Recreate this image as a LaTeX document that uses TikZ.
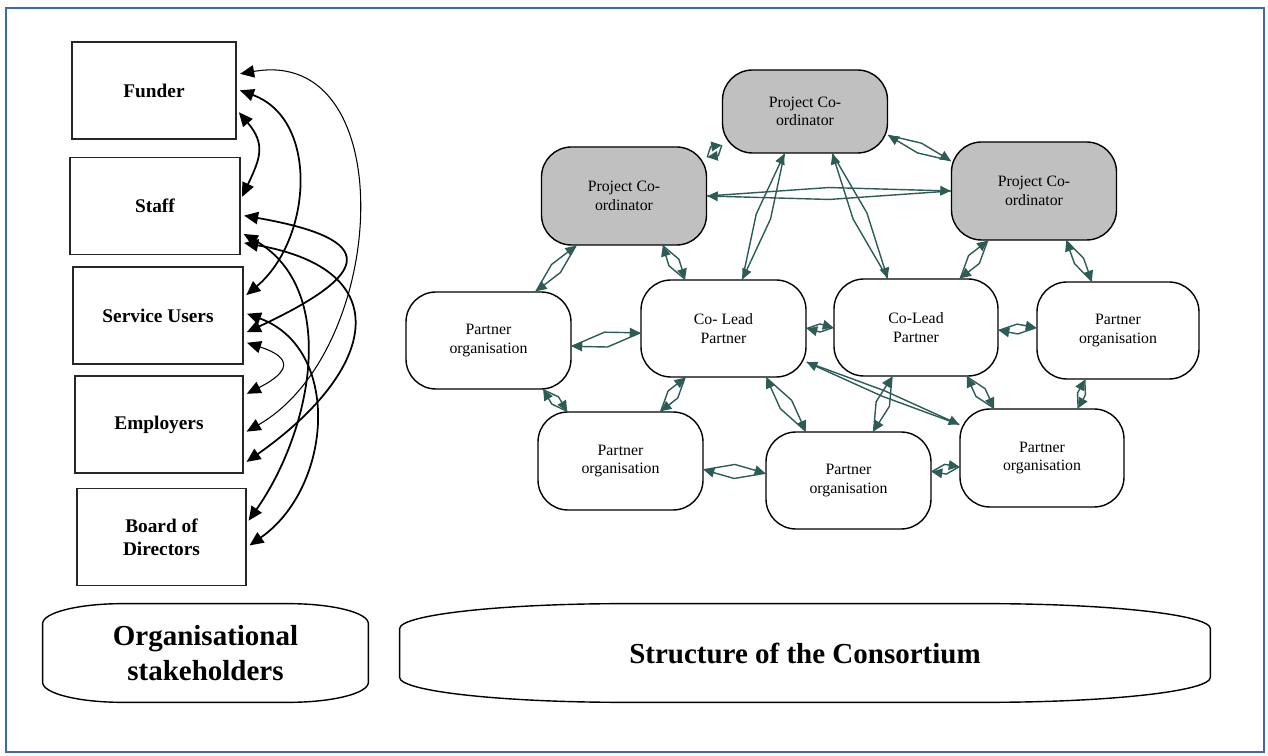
\documentclass[tikz,border=0pt]{standalone}
\usepackage{fontspec}
\setmainfont{Liberation Serif}
\usetikzlibrary{calc,arrows.meta}
\definecolor{linkteal}{RGB}{45,92,87}
\definecolor{frameblue}{RGB}{62,104,176}
\definecolor{coordgray}{RGB}{192,192,192}
\def\lens(#1)(#2)(#3){\draw[link] (#1) -- ($(#1)!0.5!(#2)!#3!90:(#2)$) -- (#2); \draw[link] (#2) -- ($(#1)!0.5!(#2)!#3!-90:(#2)$) -- (#1);}
\def\softbox(#1)(#2:#3){\draw[line width=0.8pt] ([xshift=#2]#1.north west) -- ([xshift=-#2]#1.north east) arc[start angle=90,end angle=0,x radius=#2,y radius=#3] -- ([yshift=#3]#1.south east) arc[start angle=0,end angle=-90,x radius=#2,y radius=#3] -- ([xshift=#2]#1.south west) arc[start angle=270,end angle=180,x radius=#2,y radius=#3] -- ([yshift=-#3]#1.north west) arc[start angle=180,end angle=90,x radius=#2,y radius=#3] -- cycle;}
\tikzset{
  stake/.style={draw=black!85, line width=0.7pt, minimum width=3.36cm, minimum height=1.94cm, align=center, font=\fontsize{11}{13}\selectfont\bfseries},
  member/.style={draw, line width=0.8pt, rounded corners=0.6cm, minimum width=3.3cm, minimum height=1.94cm, align=center, font=\fontsize{9}{10.5}\selectfont},
  coord/.style={member, fill=coordgray},
  banner/.style={minimum height=1.96cm, align=center, font=\fontsize{16.5}{20}\selectfont\bfseries},
  link/.style={draw=linkteal, line width=0.8pt, line join=round, -{Triangle[length=6pt,width=5.5pt]}},
  bond/.style={line width=1pt, {Triangle[length=8pt,width=7pt]}-{Triangle[length=8pt,width=7pt]}, shorten <=2pt, shorten >=2pt},
  thinbond/.style={bond, line width=0.6pt}
}
\begin{document}
\begin{tikzpicture}
			%%%%% START %%%%%
			\useasboundingbox (0,0) rectangle (25.36,15.12);
			\draw[line width=1.2pt, frameblue] (0.12,0.08) rectangle (25.28,14.96);
			
			% stakeholders
			\node[stake, minimum width=3.28cm] (funder) at (3.08,13.31) {Funder};
			\node[stake, minimum width=3.40cm] (staff) at (3.10,11.00) {Staff};
			\node[stake, minimum width=3.40cm] (su) at (3.16,8.81) {Service Users};
			\node[stake] (employers) at (3.18,6.63) {Employers};
			\node[stake, minimum width=3.38cm] (board) at (3.23,4.38) {Board of\\Directors};
			
			\draw[bond] (funder.-13) .. controls +(0.59,-0.70) and +(0.39,0.83) .. (staff.4);
			\draw[bond] (funder.1) .. controls +(1.67,-0.61) and +(1.36,1.14) .. (su.12);
			\draw[thinbond] (funder.11) .. controls +(3.31,0.58) and +(2.91,1.68) .. (employers.-6);
			\draw[bond] (staff.-6) .. controls +(2.8,-0.49) and +(2.57,1.2) .. (su.-12);
			\draw[bond] (staff.-23) .. controls +(3.19,-0.56) and +(2.65,1.86) .. (employers.-25);
			\draw[bond] (staff.-17) .. controls +(1.98,-1.14) and +(1.31,1.87) .. (board.9);
			\draw[bond] (su.2) .. controls +(1.97,-0.72) and +(1.72,1.2) .. (board.-7);
			\draw[thinbond] (su.-17) .. controls +(0.99,-0.32) and +(0.93,0.47) .. (employers.19);
			
			% consortium
			\node[coord, minimum height=1.66cm] (pcTop) at (16.10,12.89) {Project Co-\\ordinator};
			\node[coord, minimum height=1.96cm] (pcLeft) at (12.48,11.20) {Project Co-\\ordinator};
			\node[coord, minimum height=1.96cm] (pcRight) at (20.68,11.30) {Project Co-\\ordinator};
			\node[member] (partL) at (9.77,8.31) {Partner\\organisation};
			\node[member] (leadL) at (14.47,8.55) {Co- Lead\\Partner};
			\node[member, minimum width=3.28cm] (leadR) at (18.32,8.57) {Co-Lead\\Partner};
			\node[member, minimum width=3.24cm] (partR) at (22.36,8.51) {Partner\\organisation};
			\node[member, minimum height=1.96cm] (partBL) at (12.41,5.90) {Partner\\organisation};
			\node[member] (partBM) at (16.97,5.51) {Partner\\organisation};
			\node[member, minimum width=3.28cm, minimum height=1.96cm] (partBR) at (20.84,5.96) {Partner\\organisation};
			
			\lens(pcTop.202)(pcLeft.25)(3.4pt)
			\lens(pcTop.344)(pcRight.160)(3pt)
			\lens(pcLeft.east)(pcRight.west)(3.4pt)
			\lens(pcTop.244)(leadL.69)(4.3pt)
			\lens(pcTop.303)(leadR.120)(4.3pt)
			\lens(pcLeft.226)(partL.46)(3.4pt)
			\lens(pcLeft.308)(leadL.128)(3.4pt)
			\lens(pcRight.227)(leadR.48)(3.8pt)
			\lens(pcRight.303)(partR.118)(3pt)
			\lens(partL.356)(leadL.183)(4.3pt)
			\lens(leadL.east)(leadR.west)(2.3pt)
			\lens(leadR.358)(partR.178)(2.8pt)
			\lens(partL.318)(partBL.137)(2.8pt)
			\lens(leadL.232)(partBL.51)(3.4pt)
			\lens(leadL.311)(partBM.131)(4pt)
			\lens(leadL.338)(partBR.158)(1.7pt)
			\lens(leadR.244)(partBM.63)(4pt)
			\lens(leadR.316)(partBR.134)(3.4pt)
			\lens(partR.236)(partBR.54)(2.3pt)
			\lens(partBL.354)(partBM.175)(4pt)
			\lens(partBM.6)(partBR.186)(2.8pt)
			
			% captions
			\node[banner, minimum width=6.5cm] (orgs) at (4.11,2.06) {Organisational\\stakeholders};
			\softbox(orgs)(1.6cm:0.4cm)
			\node[banner, minimum width=16.2cm] (consort) at (16.10,2.06) {Structure of the Consortium};
			\softbox(consort)(4.5cm:0.5cm)
			%%%%% END %%%%%
\end{tikzpicture}
\end{document}
